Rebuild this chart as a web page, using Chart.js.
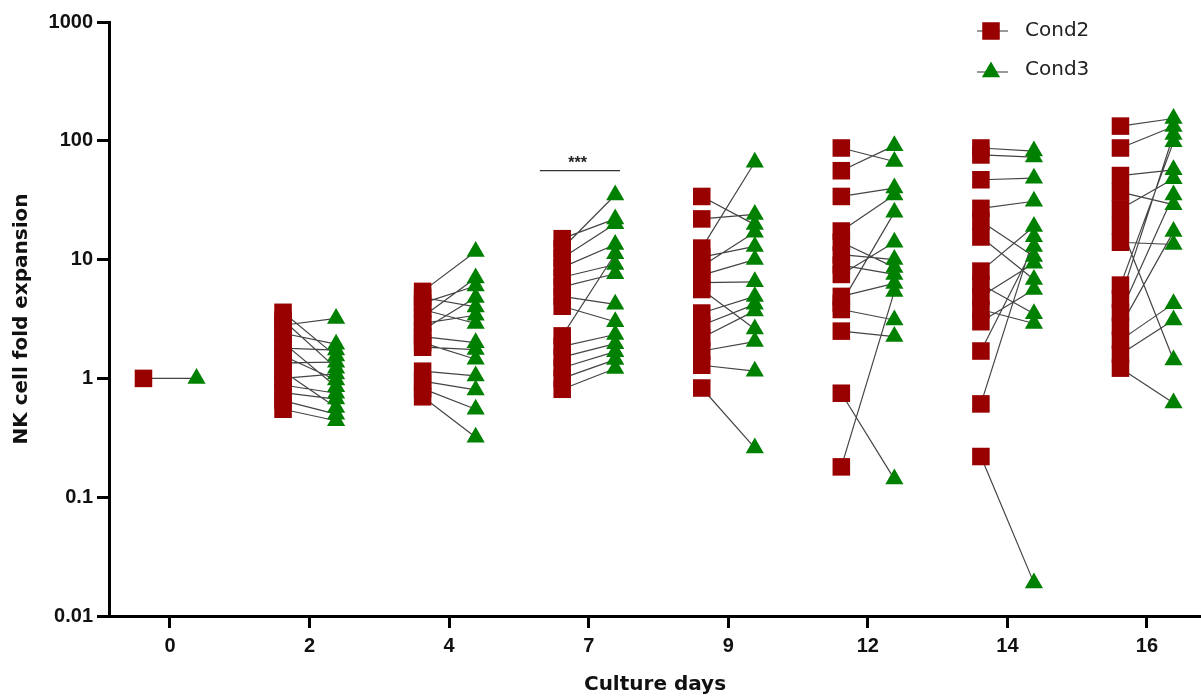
<!DOCTYPE html>
<html>
<head>
<meta charset="utf-8">
<style>
  html, body { margin: 0; padding: 0; background: #fff; overflow: hidden; }
  #wrap { position: relative; width: 1201px; height: 698px; }
</style>
</head>
<body>
<div id="wrap"><canvas id="chart"></canvas></div>

<script src="https://cdn.jsdelivr.net/npm/chart.js@4.4.1/dist/chart.umd.min.js"></script>
<script>
const days = ['0', '2', '4', '7', '9', '12', '14', '16']
const yTicks = [0.01, 0.1, 1, 10, 100, 1000]

// fold expansion per donor and day, cond2[d][i] is paired with cond3[d][i]
const cond2 = [
  [1],
  [3.6, 3.1, 2.8, 2.4, 2.0, 1.8, 1.55, 1.35, 1.15, 1.0, 0.88, 0.76, 0.65, 0.55],
  [5.4, 4.8, 4.3, 3.8, 3.3, 2.9, 2.55, 2.25, 2.0, 1.83, 1.15, 0.95, 0.82, 0.70],
  [15, 12.4, 10.3, 8.6, 7.1, 5.9, 4.9, 4.05, 2.28, 1.86, 1.51, 1.23, 1.0, 0.81],
  [34, 22, 12.5, 10.5, 8.8, 7.4, 6.4, 5.6, 3.55, 2.8, 2.2, 1.7, 1.29, 0.83],
  [87, 56, 34, 17.4, 14, 11, 9, 7.5, 4.9, 4.3, 3.8, 2.5, 0.75, 0.18],
  [87, 76, 47, 27, 21, 15.5, 8, 6.2, 4.9, 3.8, 3.0, 1.7, 0.61, 0.22],
  [133, 87, 51, 37, 26.7, 19.3, 14, 6.1, 4.67, 3.58, 2.74, 2.1, 1.6, 1.22],
]
const cond3 = [
  [1],
  [1.54, 1.22, 3.2, 1.94, 0.85, 1.73, 0.97, 1.37, 0.57, 1.09, 0.75, 0.67, 0.50, 0.44],
  [11.7, 4.0, 6.0, 2.9, 7.0, 3.4, 4.8, 2.0, 1.45, 1.75, 1.05, 0.8, 0.55, 0.32],
  [22, 35, 20, 13.4, 9.1, 7.6, 4.2, 3.0, 11.2, 2.34, 1.96, 1.68, 1.44, 1.21],
  [19.7, 24, 66, 12.9, 17, 10, 6.5, 2.6, 4.9, 4.2, 3.7, 2.04, 1.15, 0.26],
  [67, 91, 40, 35, 8.6, 10, 7.5, 14, 6.3, 25, 3.1, 2.25, 0.142, 5.4],
  [82, 73, 48.5, 31, 10.6, 6.8, 19, 3.5, 9.3, 2.9, 5.6, 12.9, 15.6, 0.019],
  [154, 132, 57, 29, 48, 1.43, 13.4, 98, 113, 35, 17.2, 4.26, 3.1, 0.62],
]

// significance bar over day 7
const sigDay = 3
const sigLevel = 56
const sigText = '***'

const OFF = 0.19
const RED = '#990000'
const GREEN = '#008000'

let squares = []
let triangles = []
let pairLines = []
days.forEach((d, i) => {
  cond2[i].forEach((v, j) => {
    let w = cond3[i][j]
    squares.push({ x: i - OFF, y: v })
    triangles.push({ x: i + OFF, y: w })
    pairLines.push({ x: i - OFF, y: v }, { x: i + OFF, y: w }, { x: i, y: null })
  })
})

function shape(ctx, style, x, y, r, color) {
  ctx.fillStyle = color
  ctx.beginPath()
  if (style === 'rect') {
    let s = Math.SQRT1_2 * r
    ctx.rect(x - s, y - s, 2 * s, 2 * s)
  } else {
    let w = r * Math.sin(Math.PI / 3)
    ctx.moveTo(x, y - r)
    ctx.lineTo(x + w, y + r / 2)
    ctx.lineTo(x - w, y + r / 2)
    ctx.closePath()
  }
  ctx.fill()
}

const extras = {
  id: 'extras',
  afterDatasetsDraw(chart) {
    const ctx = chart.ctx
    const xs = chart.scales.x, ys = chart.scales.y
    ctx.save()

    // *** bar
    let yy = ys.getPixelForValue(sigLevel)
    ctx.strokeStyle = '#333'
    ctx.lineWidth = 1.2
    ctx.beginPath()
    ctx.moveTo(xs.getPixelForValue(sigDay - 0.35), yy)
    ctx.lineTo(xs.getPixelForValue(sigDay + 0.225), yy)
    ctx.stroke()
    ctx.fillStyle = '#222'
    ctx.font = 'bold 16px "Liberation Sans"'
    ctx.textAlign = 'center'
    ctx.textBaseline = 'middle'
    ctx.fillText(sigText, xs.getPixelForValue(sigDay - 0.08), yy - 7)

    // legend
    let items = [
      { label: 'Cond2', style: 'rect', r: 12.4, color: RED, y: 31 },
      { label: 'Cond3', style: 'triangle', r: 10.5, color: GREEN, y: 72 },
    ]
    items.forEach(it => {
      ctx.strokeStyle = '#555'
      ctx.lineWidth = 1.2
      ctx.beginPath()
      ctx.moveTo(977, it.y)
      ctx.lineTo(1008, it.y)
      ctx.stroke()
      shape(ctx, it.style, 991, it.y, it.r, it.color)
      ctx.fillStyle = '#222'
      ctx.font = '20px "DejaVu Sans"'
      ctx.textAlign = 'left'
      ctx.textBaseline = 'middle'
      ctx.fillText(it.label, 1025, it.y + (it.style === 'rect' ? 0 : -2))
    })
    ctx.restore()
  }
}

const tickFont = { family: 'Liberation Sans', size: 20, weight: 'bold' }
const titleFont = { family: 'DejaVu Sans', size: 20, weight: 'bold' }

function noPad(s) {
  s.paddingLeft = 0
  s.paddingRight = 0
  s.paddingTop = 0
  s.paddingBottom = 0
}

new Chart(document.getElementById('chart'), {
  type: 'scatter',
  data: {
    datasets: [
      {
        label: 'Cond3',
        data: triangles,
        pointStyle: 'triangle',
        pointRadius: 10.5,
        pointBackgroundColor: GREEN,
        pointBorderColor: GREEN,
        pointBorderWidth: 0,
        order: 0,
      },
      {
        label: 'Cond2',
        data: squares,
        pointStyle: 'rect',
        pointRadius: 12.4,
        pointBackgroundColor: RED,
        pointBorderColor: RED,
        pointBorderWidth: 0,
        order: 1,
      },
      {
        type: 'line',
        label: 'pairs',
        data: pairLines,
        showLine: true,
        spanGaps: false,
        borderColor: 'rgba(35,35,35,0.85)',
        borderWidth: 1.2,
        pointRadius: 0,
        fill: false,
        order: 2,
      },
    ],
  },
  options: {
    responsive: true,
    maintainAspectRatio: false,
    animation: false,
    events: [],
    clip: false,
    layout: { autoPadding: false, padding: { top: 22, right: 0, left: 0, bottom: 0 } },
    plugins: {
      legend: { display: false },
      tooltip: { enabled: false },
    },
    scales: {
      x: {
        type: 'linear',
        min: -0.437,
        max: 7.387,
        afterBuildTicks: s => { s.ticks = days.map((d, i) => ({ value: i })) },
        afterFit: s => { s.height = 82; noPad(s) },
        ticks: {
          callback: v => days[v],
          font: tickFont,
          color: '#111',
          padding: 6,
          autoSkip: false,
          maxRotation: 0,
        },
        grid: { drawOnChartArea: false, tickLength: 12, tickWidth: 3, tickColor: '#000' },
        border: { width: 3, color: '#000' },
        title: { display: true, text: 'Culture days', font: titleFont, color: '#111', padding: { top: 0, bottom: 1 } },
      },
      y: {
        type: 'logarithmic',
        min: 0.01,
        max: 1000,
        afterBuildTicks: s => { s.ticks = yTicks.map(v => ({ value: v })) },
        afterFit: s => { s.width = 109; noPad(s) },
        ticks: {
          callback: v => String(v),
          font: tickFont,
          color: '#111',
          padding: 4,
          autoSkip: false,
        },
        grid: { drawOnChartArea: false, tickLength: 12, tickWidth: 3, tickColor: '#000' },
        border: { width: 3, color: '#000' },
        title: { display: true, text: 'NK cell fold expansion', font: titleFont, color: '#111', padding: { top: 10, bottom: 0 } },
      },
    },
  },
  plugins: [extras],
})
</script>
</body>
</html>
